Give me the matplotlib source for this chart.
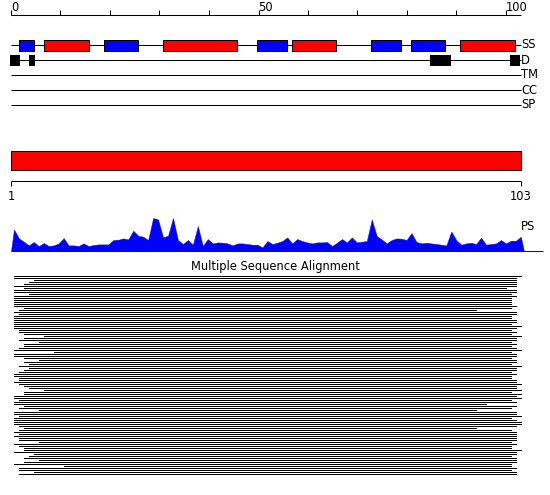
import numpy as np
import matplotlib
matplotlib.use("Agg")
import matplotlib.pyplot as plt
from matplotlib.patches import Rectangle

# ---------------- data ----------------
ruler_ticks = [0, 10, 20, 30, 40, 50, 60, 70, 80, 90, 100]
ruler_labels = [0, 50, 100]
seq_len = 103

track_names = ["SS", "D", "TM", "CC", "SP"]

ss_start = [1.6, 6.7, 18.8, 30.7, 49.7, 56.8, 72.7, 80.8, 90.7]
ss_end = [4.6, 15.8, 25.7, 45.7, 55.8, 65.7, 78.8, 87.7, 101.8]
ss_type = ["E", "H", "E", "H", "E", "H", "E", "E", "H"]

d_start = [-0.2, 3.6, 84.6, 100.8]
d_end = [1.8, 4.8, 88.9, 102.8]

domain_start = 1
domain_end = 103

ps_values = [21.3, 12.3, 9.0, 5.3, 8.7, 4.7, 7.7, 4.7, 5.3, 7.3,
             12.7, 5.3, 5.3, 4.7, 7.3, 4.7, 5.7, 6.3, 6.3, 6.3,
             10.7, 11.0, 12.3, 11.3, 20.0, 15.0, 14.0, 10.7, 32.7, 31.3,
             13.3, 15.0, 32.7, 10.7, 6.7, 10.7, 6.0, 24.7, 4.7, 11.7,
             7.3, 8.3, 8.0, 7.3, 5.3, 7.3, 7.3, 6.7, 6.0, 6.0,
             3.3, 9.7, 6.7, 8.0, 9.7, 13.3, 7.3, 11.7, 9.7, 8.3,
             7.3, 8.3, 8.3, 8.7, 4.7, 8.0, 11.7, 8.3, 13.3, 8.3,
             9.0, 9.7, 31.3, 14.7, 11.3, 7.3, 10.7, 12.3, 12.0, 10.7,
             17.7, 8.7, 7.3, 8.0, 7.3, 6.7, 6.0, 5.3, 19.3, 10.7,
             6.0, 7.3, 8.0, 6.7, 13.0, 6.0, 6.7, 7.3, 10.7, 7.3,
             10.0, 10.0, 14.0]

msa_start = [1, 1, 5, 4, 3, 1, 3, 1, 1, 4,
             1, 1, 1, 1, 1, 1, 3, 2, 1, 2,
             1, 1, 1, 1, 1, 1, 1, 2, 2, 3,
             7, 3, 2, 6, 3, 3, 2, 1, 9, 1,
             1, 3, 6, 3, 4, 2, 4, 3, 2, 1,
             1, 2, 2, 1, 2, 3, 4, 7, 3, 3,
             1, 1, 2, 1, 1, 3, 2, 6, 1, 1,
             2, 1, 1, 1, 1, 2, 3, 2, 1, 2,
             1, 2, 2, 6, 1, 2, 3, 3, 1, 5,
             4, 3, 6, 3, 1, 11, 2, 2, 5, 2]
msa_end = [103, 102, 102, 102, 102, 102, 100, 102, 102, 101,
           102, 101, 101, 101, 101, 102, 101, 94, 102, 102,
           101, 101, 102, 102, 101, 103, 102, 101, 102, 101,
           103, 102, 102, 101, 102, 101, 102, 103, 101, 102,
           102, 101, 102, 102, 101, 103, 102, 102, 101, 102,
           101, 101, 102, 102, 103, 102, 102, 103, 101, 103,
           102, 103, 101, 102, 96, 102, 101, 94, 102, 102,
           103, 101, 102, 103, 103, 102, 94, 101, 102, 102,
           102, 102, 102, 101, 102, 101, 101, 103, 102, 102,
           101, 102, 102, 102, 101, 101, 102, 101, 102, 102]

# ---------------- layout ----------------
W, H = 550, 495
PX0, SCALE = 11.0, 4.95
BLUE = (0, 0, 1)
RED = (1, 0, 0)
LW = 0.75
FS = 8.3

def rp(r):  # residue (1..103) -> axis units
    return (r - 1) * 103.0 / 102.0

fig = plt.figure(figsize=(W / 100, H / 100), dpi=100)
ax = fig.add_axes([0, 0, 1, 1])
ax.set_xlim(-PX0 / SCALE, (W - PX0) / SCALE)
ax.set_ylim(H, 0)
ax.axis("off")

# top ruler
ax.hlines(14.5, 0, seq_len, color="black", lw=LW)
ax.vlines(ruler_ticks, 10, 14.5, color="black", lw=LW)
for t in ruler_labels:
    ax.text(t, 11, str(t), ha="left", va="baseline", fontsize=FS)

# tracks
track_y = [45, 60, 75, 90, 105]
for name, y in zip(track_names, track_y):
    ax.hlines(y, 0, seq_len, color="black", lw=LW, zorder=1)
    ax.text(seq_len + 0.1, y, name, ha="left", va="center", fontsize=FS)

for s, e, t in zip(ss_start, ss_end, ss_type):
    ax.add_patch(Rectangle((s, 40), e - s, 10.5, facecolor=BLUE if t == "E" else RED,
                           edgecolor="black", lw=LW, zorder=2))
for s, e in zip(d_start, d_end):
    ax.add_patch(Rectangle((s, 55), e - s, 11, facecolor="black",
                           edgecolor="black", lw=0, zorder=2))

# domain bar
ax.add_patch(Rectangle((rp(domain_start) - 0.1, 150.7), rp(domain_end) - rp(domain_start) + 0.1, 19.6,
                       facecolor=RED, edgecolor="black", lw=LW))

# bottom ruler
ax.hlines(180.5, rp(domain_start), rp(domain_end), color="black", lw=LW)
ax.vlines([rp(domain_start), rp(domain_end)], 180.5, 186, color="black", lw=LW)
for r in (domain_start, domain_end):
    ax.text(rp(r), 200, str(r), ha="center", va="baseline", fontsize=FS)

# PS profile
PS_BASE = 250.7
ps_x = np.linspace(0.6, 103.0, len(ps_values))
xs = np.concatenate([[0.0], ps_x, [103.6]])
hs = np.concatenate([[0.0], ps_values, [0.0]])
ax.fill_between(xs, PS_BASE, PS_BASE - hs, facecolor=BLUE, edgecolor=BLUE, lw=0.3)
ax.hlines(PS_BASE, 0, (543 - PX0) / SCALE, color=BLUE, lw=LW)
ax.text(seq_len + 0.1, 226, "PS", ha="left", va="center", fontsize=FS)

# MSA
ax.text((275 - PX0) / SCALE, 270, "Multiple Sequence Alignment", ha="center",
        va="baseline", fontsize=FS)
rows_y = 275.5 + 2 * np.arange(len(msa_start))
ax.hlines(rows_y, [rp(s) + 0.6 for s in msa_start], [rp(e) for e in msa_end],
          color="black", lw=0.72, antialiased=False)

fig.savefig("out.png", dpi=100)
